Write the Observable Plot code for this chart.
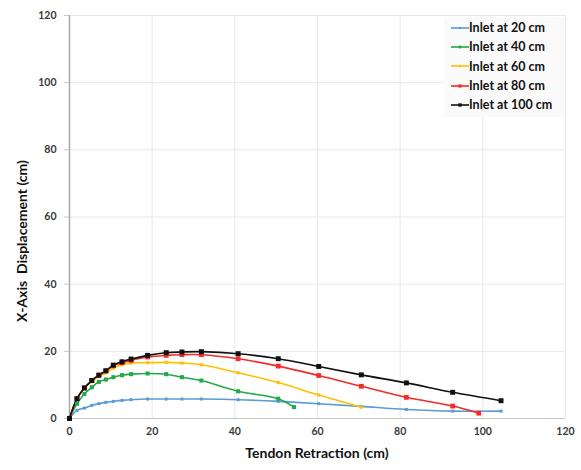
<!DOCTYPE html>
<html>
<head>
<meta charset="utf-8">
<script src="https://cdn.jsdelivr.net/npm/d3@7"></script>
<script src="https://cdn.jsdelivr.net/npm/@observablehq/plot@0.6"></script>
<style>
  html, body { margin: 0; padding: 0; background: #fff; }
  #wrap { position: relative; width: 581px; height: 470px; font-family: Lato, "Open Sans", sans-serif; }
  .ttl { position: absolute; font-weight: bold; font-size: 14px; color: #111; white-space: nowrap; }
  #legend { position: absolute; left: 444px; top: 17px; width: 121px; padding: 1px 0 3px 0; background: #fafafa; }
  .row { display: flex; align-items: center; height: 19.3px; }
  .row span { font-weight: bold; font-size: 12.5px; color: #111; }
</style>
</head>
<body>
<div id="wrap"></div>
<script>
// ---- data ----
const xTicks = [0, 20, 40, 60, 80, 100, 120];
const yTicks = [0, 20, 40, 60, 80, 100, 120];

const seriesNames = ["Inlet at 20 cm", "Inlet at 40 cm", "Inlet at 60 cm", "Inlet at 80 cm", "Inlet at 100 cm"];
const seriesColors = ["#5b9bd5", "#23a84a", "#ffc000", "#f52a2a", "#111111"];

const x20 = [0, 1.8, 3.6, 5.4, 7.1, 8.8, 10.6, 12.7, 14.9, 18.9, 23.4, 27.2, 31.9, 40.8, 50.5, 60.3, 70.6, 81.5, 92.7, 104.4];
const y20 = [0, 2.4, 3.1, 3.9, 4.4, 4.8, 5.1, 5.4, 5.6, 5.8, 5.8, 5.8, 5.8, 5.6, 5.1, 4.4, 3.6, 2.7, 2.2, 2.2];

const x40 = [0, 1.8, 3.6, 5.4, 7.1, 8.8, 10.6, 12.7, 14.9, 18.9, 23.4, 27.2, 31.9, 40.8, 50.5, 54.3];
const y40 = [0, 4.4, 7.3, 9.3, 10.9, 11.6, 12.3, 12.9, 13.2, 13.4, 13.2, 12.3, 11.3, 8.1, 5.9, 3.4];

const x60 = [0, 1.8, 3.6, 5.4, 7.1, 8.8, 10.6, 12.7, 14.9, 18.9, 23.4, 27.2, 31.9, 40.8, 50.5, 60.3, 70.6];
const y60 = [0, 5.8, 9.0, 11.0, 12.5, 13.6, 15.0, 16.0, 16.5, 16.6, 16.7, 16.5, 16.0, 13.6, 10.7, 7.0, 3.4];

const x80 = [0, 1.8, 3.6, 5.4, 7.1, 8.8, 10.6, 12.7, 14.9, 18.9, 23.4, 27.2, 31.9, 40.8, 50.5, 60.3, 70.6, 81.5, 92.7, 99.0];
const y80 = [0, 5.9, 9.1, 11.3, 12.9, 14.2, 15.7, 16.6, 17.3, 18.3, 18.8, 19.0, 19.0, 17.8, 15.6, 12.8, 9.6, 6.3, 3.7, 1.6];

const x100 = [0, 1.8, 3.6, 5.4, 7.1, 8.8, 10.6, 12.7, 14.9, 18.9, 23.4, 27.2, 31.9, 40.8, 50.5, 60.3, 70.6, 81.5, 92.7, 104.4];
const y100 = [0, 5.9, 9.1, 11.3, 12.9, 14.2, 15.9, 16.9, 17.7, 18.8, 19.6, 19.8, 19.9, 19.3, 17.8, 15.5, 13.0, 10.6, 7.8, 5.3];

const xLabel = "Tendon Retraction (cm)";
const yLabel = "X-Axis\u00a0 Displacement (cm)";

// ---- build ----
const allX = [x20, x40, x60, x80, x100];
const allY = [y20, y40, y60, y80, y100];
const markerR = [1.7, 2.3, 1.8, 2.7, 2.8];

function rows(i) { return allX[i].map((x, j) => ({x, y: allY[i][j]})); }

const marks = [
  Plot.gridX(xTicks.slice(1), {stroke: "#e8e8e8", strokeOpacity: 1, strokeWidth: 1}),
  Plot.gridY(yTicks.slice(1), {stroke: "#e8e8e8", strokeOpacity: 1, strokeWidth: 1}),
  Plot.axisY(yTicks, {tickSize: 5, tickPadding: 8, stroke: "#c8c8c8", label: null, fontWeight: "bold"}),
  Plot.axisX(xTicks, {tickSize: 0, tickPadding: 9, label: null, fontWeight: "bold"}),
  Plot.ruleY([0], {stroke: "#c8c8c8", strokeWidth: 1.2}),
  Plot.ruleX([0], {stroke: "#aaaaaa", strokeWidth: 1.5})
];
for (let i = 0; i < 5; i++) {
  const d = rows(i);
  marks.push(Plot.line(d, {x: "x", y: "y", stroke: seriesColors[i], strokeWidth: 1.6, curve: "catmull-rom"}));
}
for (let i = 0; i < 5; i++) {
  const d = rows(i);
  marks.push(Plot.dot(d, {x: "x", y: "y", fill: seriesColors[i], stroke: "none", symbol: "square", r: markerR[i]}));
}

const chart = Plot.plot({
  width: 581,
  height: 470,
  marginLeft: 69,
  marginRight: 16,
  marginTop: 15,
  marginBottom: 52,
  style: {fontFamily: "Lato, 'Open Sans', sans-serif", fontSize: "10.5px", color: "#3a3a3a", background: "transparent"},
  x: {domain: [0, 120]},
  y: {domain: [0, 120]},
  marks
});

const wrap = document.getElementById("wrap");
wrap.appendChild(chart);

const xt = document.createElement("div");
xt.className = "ttl";
xt.textContent = xLabel;
xt.style.left = "317px"; xt.style.top = "452px";
xt.style.transform = "translate(-50%, -50%)";
wrap.appendChild(xt);

const yt = document.createElement("div");
yt.className = "ttl";
yt.textContent = yLabel;
yt.style.left = "21px"; yt.style.top = "241px";
yt.style.transform = "translate(-50%, -50%) rotate(-90deg)";
wrap.appendChild(yt);

const lg = document.createElement("div");
lg.id = "legend";
seriesNames.forEach((name, i) => {
  const r = document.createElement("div");
  r.className = "row";
  r.innerHTML = `<svg width="18" height="10" style="margin-left:7px;margin-right:0"><line x1="0" x2="18" y1="5" y2="5" stroke="${seriesColors[i]}" stroke-width="1.6"/><rect x="${9 - markerR[i] * 0.6}" y="${5 - markerR[i] * 0.6}" width="${markerR[i] * 1.2}" height="${markerR[i] * 1.2}" fill="${seriesColors[i]}"/></svg><span>${name}</span>`;
  lg.appendChild(r);
});
wrap.appendChild(lg);
</script>
</body>
</html>
